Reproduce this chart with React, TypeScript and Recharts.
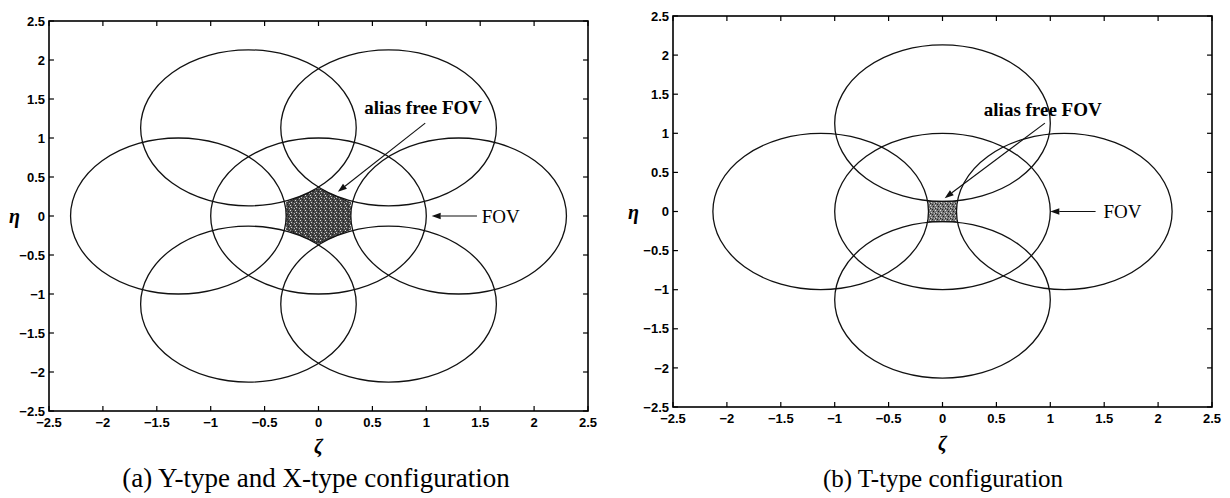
import React from 'react';
import {
  ComposedChart,
  XAxis,
  YAxis,
  Area,
  ReferenceArea,
  ReferenceLine,
  ReferenceDot,
  Label,
} from 'recharts';

// shared axis ticks (ζ and η both run -2.5 .. 2.5)
const TICKS = [-2.5, -2, -1.5, -1, -0.5, 0, 0.5, 1, 1.5, 2, 2.5];
const LIMIT = 2.5;
const FOV_RADIUS = 1;

// (a) Y-type / X-type: centre FOV plus six aliases on a hexagon
const Y_ZETA = [0, 1.3, 0.65, -0.65, -1.3, -0.65, 0.65];
const Y_ETA = [0, 0, 1.13, 1.13, 0, -1.13, -1.13];
// alias free hexagon: ζ with its η range
const HEX_ZETA = [-0.3, 0, 0.3];
const HEX_ETA = [
  [-0.17, 0.17],
  [-0.35, 0.35],
  [-0.17, 0.17],
];

// (b) T-type: centre FOV plus four aliases on a square grid
const T_ZETA = [0, 1.13, 0, -1.13, 0];
const T_ETA = [0, 0, 1.13, 0, -1.13];
const SQUARE_ZETA = [-0.13, 0.13];
const SQUARE_ETA = [
  [-0.13, 0.13],
  [-0.13, 0.13],
];

// annotations (data coordinates)
const Y_NOTES = [
  { text: 'alias free FOV', zeta: 0.97, eta: 1.385, bold: true },
  { text: 'FOV', zeta: 1.69, eta: 0, bold: false },
];
const Y_ARROWS = [
  { from: [0.99, 1.19], to: [0.18, 0.31] },
  { from: [1.47, 0], to: [1.05, 0] },
];
const T_NOTES = [
  { text: 'alias free FOV', zeta: 0.93, eta: 1.3, bold: true },
  { text: 'FOV', zeta: 1.67, eta: 0, bold: false },
];
const T_ARROWS = [
  { from: [0.95, 1.13], to: [0.02, 0.17] },
  { from: [1.42, 0], to: [1.0, 0] },
];

const INK = '#111';
// inward tick length in data units (≈5px on each axis)
const TICK_ZETA = 0.046;
const TICK_ETA = 0.064;

const FovOutline = (props: any) => {
  const { x, y, width, height } = props;
  return (
    <ellipse
      cx={x + width / 2}
      cy={y + height / 2}
      rx={Math.abs(width) / 2}
      ry={Math.abs(height) / 2}
      fill="none"
      stroke={INK}
      strokeWidth={1.3}
    />
  );
};

const Frame = (props: any) => {
  const { x, y, width, height } = props;
  return <rect x={x} y={y} width={width} height={height} fill="none" stroke="#000" strokeWidth={1.6} />;
};

const Arrow = (props: any) => {
  const { x1, y1, x2, y2 } = props;
  const a = Math.atan2(y2 - y1, x2 - x1);
  const len = 9;
  const half = 3.2;
  const bx = x2 - len * Math.cos(a);
  const by = y2 - len * Math.sin(a);
  const px = -Math.sin(a) * half;
  const py = Math.cos(a) * half;
  return (
    <g>
      <line x1={x1} y1={y1} x2={bx} y2={by} stroke={INK} strokeWidth={1.1} />
      <polygon points={`${x2},${y2} ${bx + px},${by + py} ${bx - px},${by - py}`} fill={INK} />
    </g>
  );
};

const fmt = (v: number) => String(v).replace('-', '\u2212');
const tickStyle = { fill: '#000', fontSize: 13, fontWeight: 700, fontFamily: 'Liberation Sans, Arial, sans-serif' };
const symbolStyle = { fill: '#000', fontSize: 20, fontWeight: 700, fontStyle: 'italic', fontFamily: 'Liberation Serif, serif' };

// inward MATLAB style ticks on all four sides of the box
const tickSegments = TICKS.flatMap((t) => [
  [{ x: t, y: -LIMIT }, { x: t, y: -LIMIT + TICK_ETA }],
  [{ x: t, y: LIMIT }, { x: t, y: LIMIT - TICK_ETA }],
  [{ x: -LIMIT, y: t }, { x: -LIMIT + TICK_ZETA, y: t }],
  [{ x: LIMIT, y: t }, { x: LIMIT - TICK_ZETA, y: t }],
]);

interface PanelProps {
  zeta: number[];
  eta: number[];
  regionZeta: number[];
  regionEta: number[][];
  notes: { text: string; zeta: number; eta: number; bold: boolean }[];
  arrows: { from: number[]; to: number[] }[];
  margin: { top: number; right: number; bottom: number; left: number };
  yWidth: number;
  xHeight: number;
  etaOffset: number;
  zetaOffset: number;
  patternId: string;
  shade: string;
}

const Panel: React.FC<PanelProps> = (p) => {
  const region = p.regionZeta.map((z, i) => ({ zeta: z, eta: p.regionEta[i] }));
  return (
    <ComposedChart width={615} height={460} margin={p.margin}>
      <defs>
        <pattern id={p.patternId} width="5" height="5" patternUnits="userSpaceOnUse">
          <rect width="5" height="5" fill={p.shade} />
          <rect x="0" y="0" width="1" height="1" fill="#e0e0e0" />
          <rect x="3" y="1" width="1" height="1" fill="#1a1a1a" />
          <rect x="1" y="2" width="1" height="1" fill="#cfcfcf" />
          <rect x="4" y="3" width="1" height="1" fill="#bdbdbd" />
          <rect x="2" y="4" width="1" height="1" fill="#222" />
          <rect x="0" y="3" width="1" height="1" fill="#262626" />
        </pattern>
      </defs>
      <XAxis
        type="number"
        dataKey="zeta"
        domain={[-LIMIT, LIMIT]}
        ticks={TICKS}
        tickFormatter={fmt}
        height={p.xHeight}
        tickSize={0}
        tickMargin={7}
        tick={tickStyle}
        axisLine={false}
        tickLine={false}
        interval={0}
      >
        <Label value="ζ" position="insideBottom" offset={p.zetaOffset} style={symbolStyle} />
      </XAxis>
      <YAxis
        type="number"
        domain={[-LIMIT, LIMIT]}
        ticks={TICKS}
        tickFormatter={fmt}
        width={p.yWidth}
        tickSize={0}
        tickMargin={4}
        tick={tickStyle}
        axisLine={false}
        tickLine={false}
        interval={0}
      >
        <Label value="η" position="insideLeft" offset={p.etaOffset} style={symbolStyle} />
      </YAxis>
      <Area
        data={region}
        dataKey="eta"
        type="linear"
        stroke="#222"
        strokeWidth={1}
        fill={`url(#${p.patternId})`}
        fillOpacity={1}
        isAnimationActive={false}
      />
      {p.zeta.map((z, i) => (
        <ReferenceArea
          key={`fov-${i}`}
          x1={z - FOV_RADIUS}
          x2={z + FOV_RADIUS}
          y1={p.eta[i] - FOV_RADIUS}
          y2={p.eta[i] + FOV_RADIUS}
          shape={FovOutline}
        />
      ))}
      <ReferenceArea x1={-LIMIT} x2={LIMIT} y1={-LIMIT} y2={LIMIT} shape={Frame} />
      {tickSegments.map((seg, i) => (
        <ReferenceLine key={`tick-${i}`} segment={seg} stroke="#000" strokeWidth={1.2} />
      ))}
      {p.arrows.map((a, i) => (
        <ReferenceLine
          key={`arrow-${i}`}
          segment={[
            { x: a.from[0], y: a.from[1] },
            { x: a.to[0], y: a.to[1] },
          ]}
          shape={Arrow}
        />
      ))}
      {p.notes.map((n, i) => (
        <ReferenceDot
          key={`note-${i}`}
          x={n.zeta}
          y={n.eta}
          r={0}
          shape={(s: any) => (
            <text
              x={s.cx}
              y={s.cy}
              textAnchor="middle"
              dominantBaseline="central"
              fontFamily="Liberation Serif, serif"
              fontSize={19}
              fontWeight={n.bold ? 700 : 400}
              fill="#000"
            >
              {n.text}
            </text>
          )}
        />
      ))}
    </ComposedChart>
  );
};

const captionStyle: React.CSSProperties = {
  position: 'absolute',
  top: 464,
  fontFamily: 'Liberation Serif, Times New Roman, serif',
  color: '#000',
  whiteSpace: 'nowrap',
  transform: 'translateX(-50%)',
};

export default function App() {
  return (
    <div style={{ position: 'absolute', left: 0, top: 0, width: 1230, height: 498, background: '#fff' }}>
      <div style={{ position: 'absolute', left: 0, top: 0 }}>
        <Panel
          zeta={Y_ZETA}
          eta={Y_ETA}
          regionZeta={HEX_ZETA}
          regionEta={HEX_ETA}
          notes={Y_NOTES}
          arrows={Y_ARROWS}
          margin={{ top: 21, right: 27, bottom: 0, left: 0 }}
          yWidth={49}
          xHeight={49}
          etaOffset={9}
          zetaOffset={7}
          patternId="stippleA"
          shade="#4a4a4a"
        />
      </div>
      <div style={{ position: 'absolute', left: 615, top: 0 }}>
        <Panel
          zeta={T_ZETA}
          eta={T_ETA}
          regionZeta={SQUARE_ZETA}
          regionEta={SQUARE_ETA}
          notes={T_NOTES}
          arrows={T_ARROWS}
          margin={{ top: 16, right: 18, bottom: 0, left: 0 }}
          yWidth={58}
          xHeight={53}
          etaOffset={13}
          zetaOffset={10}
          patternId="stippleB"
          shade="#777"
        />
      </div>
      <div style={{ ...captionStyle, left: 316, fontSize: 27, top: 463 }}>(a) Y-type and X-type configuration</div>
      <div style={{ ...captionStyle, left: 943, fontSize: 25, top: 465 }}>(b) T-type configuration</div>
    </div>
  );
}
